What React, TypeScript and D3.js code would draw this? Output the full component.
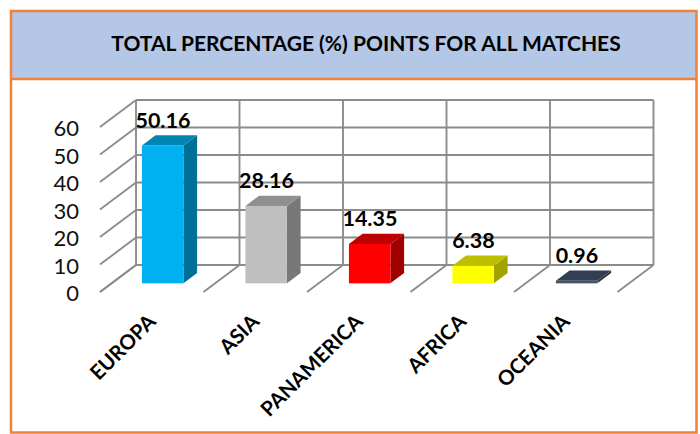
import React, { useEffect, useRef } from "react";
import * as d3 from "d3";

const width = 700;
const height = 434;

const categories = ["EUROPA", "ASIA", "PANAMERICA", "AFRICA", "OCEANIA"];
const values = [50.16, 28.16, 14.35, 6.38, 0.96];
const colors = ["#00B0F0", "#BFBFBF", "#FF0000", "#FFFF00", "#44546A"];
const yTicks = [0, 10, 20, 30, 40, 50, 60];

const font = "Lato, 'Open Sans', sans-serif";

const shade = (c: string, k: number) => {
  const r = d3.rgb(c);
  return d3.rgb(r.r * k, r.g * k, r.b * k).formatHex();
};

export default function App() {
  const ref = useRef<SVGSVGElement>(null);

  useEffect(() => {
    const svg = d3.select(ref.current);
    svg.selectAll("*").remove();

    // frame
    svg.append("rect").attr("x", 10).attr("y", 11).attr("width", 687).attr("height", 68).attr("fill", "#B4C7E7");
    svg.append("rect").attr("x", 11).attr("y", 11).attr("width", 685.5).attr("height", 421.5)
      .attr("fill", "none").attr("stroke", "#F08138").attr("stroke-width", 2.5);
    svg.append("line").attr("x1", 10).attr("x2", 697).attr("y1", 79).attr("y2", 79)
      .attr("stroke", "#F08138").attr("stroke-width", 2.5);
    svg.append("text").attr("x", 366).attr("y", 51).attr("text-anchor", "middle")
      .attr("font-family", font).attr("font-weight", 700).attr("font-size", 21).attr("fill", "#000")
      .text("TOTAL PERCENTAGE (%) POINTS FOR ALL MATCHES");

    // back wall scales, depth maps 0 (wall) to 1 (front edge of the floor)
    const x = d3.scaleBand().domain(categories).range([136, 653.5]);
    const y = d3.scaleLinear().domain([0, 60]).range([265, 100]);
    const depthX = d3.scaleLinear().domain([0, 1]).range([0, -36]);
    const depthY = d3.scaleLinear().domain([0, 1]).range([0, 27]);

    const grid = svg.append("g").attr("stroke", "#8C8C8C").attr("stroke-width", 1.9).attr("fill", "none");
    const xEdges = [...categories.map((c) => x(c) as number), 653.5];

    yTicks.forEach((t) => {
      grid.append("line").attr("x1", 136).attr("x2", 653.5).attr("y1", y(t)).attr("y2", y(t));
      grid.append("line")
        .attr("x1", 136).attr("y1", y(t))
        .attr("x2", 136 + depthX(1)).attr("y2", y(t) + depthY(1));
    });
    xEdges.forEach((e) => {
      grid.append("line").attr("x1", e).attr("x2", e).attr("y1", y(60)).attr("y2", y(0));
      grid.append("line")
        .attr("x1", e).attr("y1", y(0))
        .attr("x2", e + depthX(1)).attr("y2", y(0) + depthY(1));
    });

    // y labels sit in front of the wall
    const axis = svg.append("g")
      .attr("transform", `translate(${136 + depthX(1) - 21},${depthY(1) + 1})`)
      .call(d3.axisLeft(y).tickValues(yTicks).tickSize(0).tickPadding(0));
    axis.select(".domain").remove();
    axis.selectAll("text")
      .attr("font-family", font).attr("font-size", 22).attr("fill", "#111").attr("dy", "0.36em");

    // 3d bars
    const front = 0.68;
    const back = 0.3;
    const barOffset = 30.4;
    const barW = 41.5;
    const sideX = depthX(back) - depthX(front);
    const sideY = depthY(back) - depthY(front);

    categories.forEach((c, i) => {
      const x0 = (x(c) as number) + depthX(front) + barOffset;
      const x1 = x0 + barW;
      const yb = y(0) + depthY(front);
      const yt = y(values[i]) + depthY(front);
      const g = svg.append("g");
      const path = d3.path();
      path.moveTo(x1, yb);
      path.lineTo(x1 + sideX, yb + sideY);
      path.lineTo(x1 + sideX, yt + sideY);
      path.lineTo(x1, yt);
      path.closePath();
      g.append("path").attr("d", path.toString()).attr("fill", shade(colors[i], 0.63));
      const top = d3.path();
      top.moveTo(x0, yt);
      top.lineTo(x1, yt);
      top.lineTo(x1 + sideX, yt + sideY);
      top.lineTo(x0 + sideX, yt + sideY);
      top.closePath();
      g.append("path").attr("d", top.toString()).attr("fill", shade(colors[i], 0.75));
      g.append("rect").attr("x", x0).attr("y", yt).attr("width", barW).attr("height", yb - yt)
        .attr("fill", colors[i]);

      g.append("text")
        .attr("x", x0 + 21).attr("y", yt + sideY - 7.5)
        .attr("text-anchor", "middle")
        .attr("font-family", font).attr("font-weight", 700).attr("font-size", 21.5).attr("fill", "#000")
        .text(values[i].toFixed(2));

      svg.append("text")
        .attr("transform", `translate(${(x(c) as number) + 21},323) rotate(-45)`)
        .attr("text-anchor", "end")
        .attr("font-family", font).attr("font-weight", 700).attr("font-size", 20.5).attr("fill", "#000")
        .text(c);
    });
  }, []);

  return (
    <svg
      ref={ref}
      width={width}
      height={height}
      style={{ position: "absolute", left: 0, top: 0, background: "#fff" }}
    />
  );
}
